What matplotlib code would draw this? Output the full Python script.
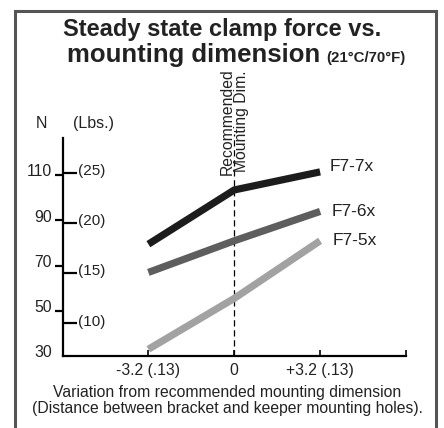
import matplotlib
matplotlib.use("Agg")
import matplotlib.pyplot as plt
from matplotlib.patches import Rectangle
from matplotlib.transforms import ScaledTranslation

# Data
x_mm = [-3.2, 0, 3.2]
x_ticklabels = ["-3.2 (.13)", "0", "+3.2 (.13)", ""]
x_ticks = [-3.2, 0, 3.2, 6.4]

series_names = ["F7-7x", "F7-6x", "F7-5x"]
f7_7x = [79.5, 103.5, 111.5]
f7_6x = [67.0, 81.0, 94.0]
f7_5x = [33.0, 55.5, 81.0]
series_colors = ["#1c1c1c", "#5e5e5e", "#a2a2a2"]
label_offsets = [(7, 4), (8, 0), (9, 0)]  # points, label placement only

n_ticks = [30, 50, 70, 90, 110]
lbs_ticks = [10, 15, 20, 25]
LBF_TO_N = 4.448

font = ["Liberation Sans", "DejaVu Sans"]
plt.rcParams["font.family"] = font
ink = "#222222"

fig = plt.figure(figsize=(4.44, 4.28), dpi=100)
ax = fig.add_axes([62.5 / 444, 1 - 356 / 428, (406 - 62.5) / 444, (356 - 138) / 428])

for vals, col, name, off in zip([f7_7x, f7_6x, f7_5x], series_colors, series_names, label_offsets):
    ax.plot(x_mm, vals, color=col, lw=5.2, solid_capstyle="butt",
            solid_joinstyle="miter", clip_on=False, zorder=3)
    ax.annotate(name, xy=(x_mm[-1], vals[-1]), xytext=off, textcoords="offset points",
                ha="left", va="center", fontsize=12.5, color=ink)

ax.axvline(0, ymax=1.02, color="black", lw=0.9, dashes=(5, 3), zorder=2, clip_on=False)

ax.set_xlim(-6.4, 6.4)
ax.set_ylim(30, 126.5)
for s in ["top", "right"]:
    ax.spines[s].set_visible(False)
for s in ["left", "bottom"]:
    ax.spines[s].set_linewidth(1.6)

ax.set_xticks(x_ticks)
ax.set_xticklabels(x_ticklabels, fontsize=11.3, color=ink)
ax.tick_params(axis="x", direction="in", length=4, width=1.2, pad=5)

ax.set_yticks(n_ticks)
ax.set_yticklabels([str(v) for v in n_ticks], fontsize=11.3, color=ink)
ax.tick_params(axis="y", which="major", direction="out", length=6, width=1.6, pad=1.5)
ax.yaxis.get_major_ticks()[0].tick1line.set_visible(False)

ax.set_yticks([v * LBF_TO_N for v in lbs_ticks], minor=True)
ax.set_yticklabels([f"({v})" for v in lbs_ticks], minor=True, fontsize=11, color=ink)
ax.tick_params(axis="y", which="minor", direction="in", length=10, width=1.6, pad=-11.5)
for lbl in ax.get_yticklabels(minor=True):
    lbl.set_ha("left")
    lbl.set_transform(lbl.get_transform() + ScaledTranslation(0, 2.2 / 72, fig.dpi_scale_trans))
for lbl in ax.get_yticklabels():
    lbl.set_transform(lbl.get_transform() + ScaledTranslation(0, 3.5 / 72, fig.dpi_scale_trans))

# vertical note at the recommended dimension
ax.annotate("Recommended\nMounting Dim.", xy=(0, 1.0), xycoords=("data", "axes fraction"),
            xytext=(0, 12), textcoords="offset points", rotation=90,
            ha="center", va="center", multialignment="center",
            fontsize=11.3, linespacing=0.9, color=ink)

# unit headers
fig.text(41.5 / 444, 1 - 124 / 428, "N", ha="center", va="center", fontsize=11.5, color=ink)
fig.text(73 / 444, 1 - 124 / 428, "(Lbs.)", ha="left", va="center", fontsize=11.5, color=ink)

# title
fig.text(222.5 / 444, 1 - 36 / 428, "Steady state clamp force vs.", ha="center", va="baseline",
         fontsize=17, fontweight="bold", color=ink)
fig.text(320 / 444, 1 - 62 / 428, "mounting dimension", ha="right", va="baseline",
         fontsize=18.5, fontweight="bold", color=ink)
fig.text(405 / 444, 1 - 62 / 428, "(21°C/70°F)", ha="right", va="baseline",
         fontsize=10.8, fontweight="bold", color=ink)

# x-axis caption
fig.text(227 / 444, 1 - 397 / 428, "Variation from recommended mounting dimension",
         ha="center", va="baseline", fontsize=11.3, color=ink)
fig.text(227 / 444, 1 - 413 / 428, "(Distance between bracket and keeper mounting holes).",
         ha="center", va="baseline", fontsize=11.3, color=ink)

# frame, open at the bottom
fig.add_artist(Rectangle((14.5 / 444, -0.2), (435.5 - 14.5) / 444, 1.2 - 10.5 / 428,
                         transform=fig.transFigure, fill=False, lw=2.2, ec="#555555"))

fig.savefig("out.png", dpi=100)
